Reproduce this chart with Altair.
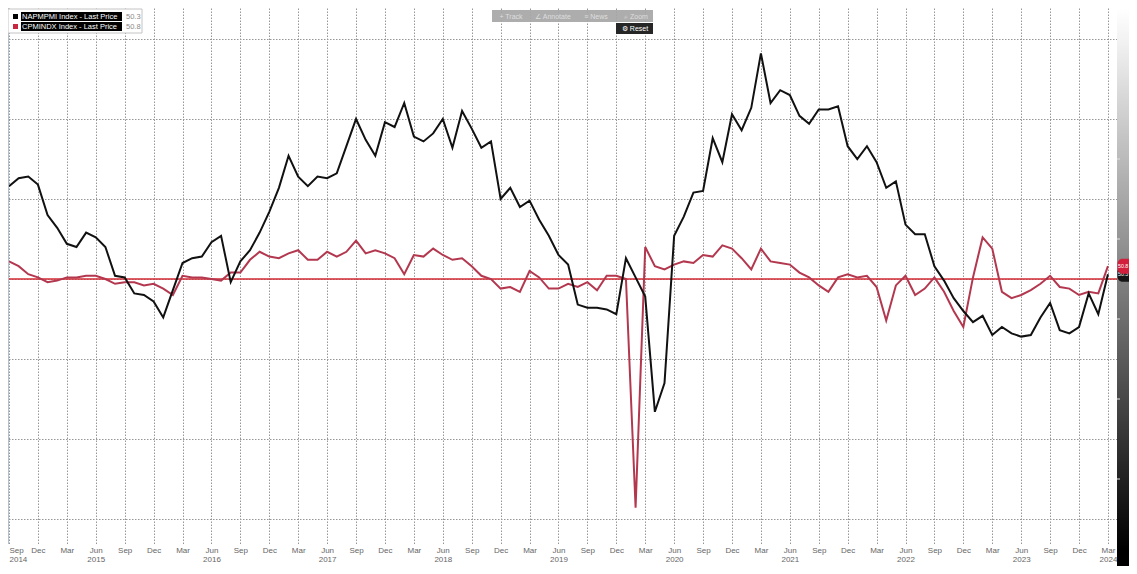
import json
import altair as alt
import pandas as pd

# ---------------- data (monthly, Sep 2014 .. Mar 2024) ----------------
start_month = "2014-09"

ism_pmi = [55.8, 56.3, 56.4, 55.9,
           54.0, 53.2, 52.2, 52.0, 52.9, 52.6, 52.0, 50.2, 50.1, 49.1, 49.0, 48.6,
           47.6, 49.3, 51.0, 51.3, 51.4, 52.3, 52.7, 49.8, 51.1, 51.8, 52.9, 54.2,
           55.7, 57.7, 56.4, 55.8, 56.4, 56.3, 56.6, 58.3, 60.0, 58.7, 57.7, 59.8,
           59.5, 61.0, 58.9, 58.6, 59.1, 60.0, 58.2, 60.5, 59.4, 58.2, 58.6, 55.0,
           55.7, 54.5, 54.9, 53.7, 52.7, 51.5, 50.9, 48.4, 48.2, 48.2, 48.1, 47.8,
           51.3, 50.1, 48.9, 41.7, 43.5, 52.7, 53.9, 55.4, 55.5, 58.8, 57.3, 60.3,
           59.3, 60.7, 64.1, 61.0, 61.8, 61.5, 60.2, 59.7, 60.6, 60.6, 60.8, 58.3,
           57.5, 58.3, 57.3, 55.7, 56.1, 53.4, 52.8, 52.8, 50.8, 49.9, 48.8, 48.0,
           47.3, 47.7, 46.5, 47.0, 46.6, 46.4, 46.5, 47.6, 48.5, 46.8, 46.6, 47.0,
           49.1, 47.8, 50.3]

china_pmi = [51.1, 50.8, 50.3, 50.1,
             49.8, 49.9, 50.1, 50.1, 50.2, 50.2, 50.0, 49.7, 49.8, 49.8, 49.6, 49.7,
             49.4, 49.0, 50.2, 50.1, 50.1, 50.0, 49.9, 50.4, 50.4, 51.2, 51.7, 51.4,
             51.3, 51.6, 51.8, 51.2, 51.2, 51.7, 51.4, 51.7, 52.4, 51.6, 51.8, 51.6,
             51.3, 50.3, 51.5, 51.4, 51.9, 51.5, 51.2, 51.3, 50.8, 50.2, 50.0, 49.4,
             49.5, 49.2, 50.5, 50.1, 49.4, 49.4, 49.7, 49.5, 49.8, 49.3, 50.2, 50.2,
             50.0, 35.7, 52.0, 50.8, 50.6, 50.9, 51.1, 51.0, 51.5, 51.4, 52.1, 51.9,
             51.3, 50.6, 51.9, 51.1, 51.0, 50.9, 50.4, 50.1, 49.6, 49.2, 50.1, 50.3,
             50.1, 50.2, 49.5, 47.4, 49.6, 50.2, 49.0, 49.4, 50.1, 49.2, 48.0, 47.0,
             50.1, 52.6, 51.9, 49.2, 48.8, 49.0, 49.3, 49.7, 50.2, 49.5, 49.4, 49.0,
             49.2, 49.1, 50.8]

y_ticks = [35, 40, 45, 50, 55, 60, 65]
y_minor = [37.5, 42.5, 47.5, 52.5, 57.5, 62.5]
legend_names = ["NAPMPMI Index - Last Price", "CPMINDX Index - Last Price"]
toolbar_items = ["+ Track", "\u2220 Annotate", "\u2261 News", "\u2315 Zoom"]

# ---------------- derived tables ----------------
months = pd.period_range(start_month, periods=len(ism_pmi), freq="M")
ism_df = pd.DataFrame({"k": range(len(ism_pmi)), "v": ism_pmi})
chn_df = pd.DataFrame({"k": range(len(china_pmi)), "v": china_pmi})

tick_vals = list(range(0, len(months), 3))
tick_month = [months[i].strftime("%b") for i in tick_vals]
tick_year = [str(months[i].year) if (months[i].month == 6 or i == 0 or i == tick_vals[-1]) else ""
             for i in tick_vals]
label_expr = (f"[{json.dumps(tick_month)}[round(datum.value/3)], "
              f"{json.dumps(tick_year)}[round(datum.value/3)]]")

W, H = 1109, 536
x_scale = alt.Scale(domain=[-0.104, 114.94], nice=False, zero=False)
y_scale = alt.Scale(domain=[33.4375, 66.9375], nice=False, zero=False)
GRID = "#969696"
RED_LINE = "#b3384f"

x_axis = alt.Axis(values=tick_vals, labelExpr=label_expr, title=None, grid=True,
                  gridColor=GRID, gridDash=[1.5, 1.5], gridWidth=1, domain=False,
                  ticks=False, labelFontSize=8, labelColor="#666666", labelPadding=2,
                  labelLineHeight=9, labelBaseline="top", labelFlush=3,
                  labelOverlap=False, labelBound=False)
y_axis = alt.Axis(orient="right", values=y_ticks, title=None, grid=True,
                  gridColor=GRID, gridDash=[1.5, 1.5], gridWidth=1, domain=False,
                  ticks=True, tickSize=4, tickColor="#e6e6e6", tickDash=[1.5, 1.5],
                  labelColor="#f4f4f4", labelFontSize=7, labelPadding=0)


def X(field):
    return alt.X(field, scale=x_scale, axis=x_axis, title=None)


def Y(field):
    return alt.Y(field, scale=y_scale, axis=y_axis, title=None)


one = pd.DataFrame({"d": [0]})


def rect(x, x2, y, y2, **kw):
    return alt.Chart(one).mark_rect(**kw).encode(
        x=alt.value(x), x2=alt.value(x2), y=alt.value(y), y2=alt.value(y2))


def text(x, y, s, **kw):
    return alt.Chart(one).mark_text(**kw).encode(
        x=alt.value(x), y=alt.value(y), text=alt.value(s))


# right gradient panel
panel = rect(W, W + 14, 0, H + 22, color=alt.LinearGradient(
    gradient="linear", x1=0, x2=0, y1=0, y2=1,
    stops=[alt.GradientStop(color="#ffffff", offset=0),
           alt.GradientStop(color="#f2f2f2", offset=0.06),
           alt.GradientStop(color="#000000", offset=0.97),
           alt.GradientStop(color="#000000", offset=1)]))

red_line = alt.Chart(chn_df).mark_line(color=RED_LINE, strokeWidth=2).encode(
    x=X("k:Q"), y=Y("v:Q"))
black_line = alt.Chart(ism_df).mark_line(color="#111111", strokeWidth=2).encode(
    x=X("k:Q"), y=Y("v:Q"))

ref50 = alt.Chart(one).mark_rule(color="#d42a33", strokeWidth=1.3).encode(
    y=Y("v:Q")).transform_calculate(v="50")

minor = alt.Chart(pd.DataFrame({"v": y_minor})).mark_rule(
    color="#e0e0e0", strokeWidth=1).encode(
    y=Y("v:Q"), x=alt.value(W), x2=alt.value(W + 3))

badge_df = pd.DataFrame({"v": [ism_pmi[-1], china_pmi[-1]],
                         "label": [f"{ism_pmi[-1]:.1f}", f"{china_pmi[-1]:.1f}"],
                         "c": ["#151515", "#d2203c"]})


def badge(i):
    d = badge_df.iloc[[i]]
    r = alt.Chart(d).mark_rect(cornerRadius=5, color=d["c"].iloc[0]).encode(
        x=alt.value(W + 0.5), x2=alt.value(W + 30),
        y=Y("hi:Q"), y2="lo:Q"
    ).transform_calculate(hi="datum.v + 0.47", lo="datum.v - 0.47")
    t = alt.Chart(d).mark_text(align="left", baseline="middle", fontSize=5.3,
                               color="white").encode(
        x=alt.value(W + 1), y=Y("v:Q"), text="label:N")
    return r + t


left_border = alt.Chart(one).mark_rule(color="#b4c0cc", strokeWidth=1).encode(
    x=alt.value(0.5), y=alt.value(0), y2=alt.value(H))

# legend box
legend = (rect(0, 134, 1, 25, fill="white", stroke="#c4c4c4", strokeWidth=1)
          + rect(5, 10, 6, 11, color="#000000")
          + rect(5, 10, 16, 21, color="#c8283f")
          + rect(13, 114, 4, 13, color="#000000")
          + rect(13, 114, 14, 23, color="#000000")
          + text(14, 8.8, legend_names[0], align="left", baseline="middle",
                 fontSize=7.5, color="white")
          + text(14, 18.8, legend_names[1], align="left", baseline="middle",
                 fontSize=7.5, color="white")
          + text(118, 8.8, f"{ism_pmi[-1]:.1f}", align="left", baseline="middle",
                 fontSize=7.5, color="#8a8a8a")
          + text(118, 18.8, f"{china_pmi[-1]:.1f}", align="left", baseline="middle",
                 fontSize=7.5, color="#8a8a8a"))

# toolbar
tool_x = [503, 545, 588, 628]
toolbar = rect(484, 645, 2, 14, color="#a6a6a6", opacity=0.92)
for tx, s in zip(tool_x, toolbar_items):
    toolbar = toolbar + text(tx, 8.5, s, align="center", baseline="middle",
                             fontSize=7, color="#dedede")
toolbar = (toolbar + rect(608, 645, 15, 26, color="#262626")
           + text(627, 20.8, "\u2699 Reset", align="center", baseline="middle",
                  fontSize=7, color="white"))

chart = alt.layer(
    panel, ref50, red_line, black_line, minor, badge(0), badge(1),
    left_border, legend, toolbar
).properties(
    width=W, height=H,
    autosize=alt.AutoSizeParams(type="none"),
    padding={"left": 0, "top": 0, "right": 12, "bottom": 22},
).configure(
    font="Liberation Sans", background="white"
).configure_view(stroke=None)

chart.save("out.html", embed_options={"renderer": "svg", "actions": False})
